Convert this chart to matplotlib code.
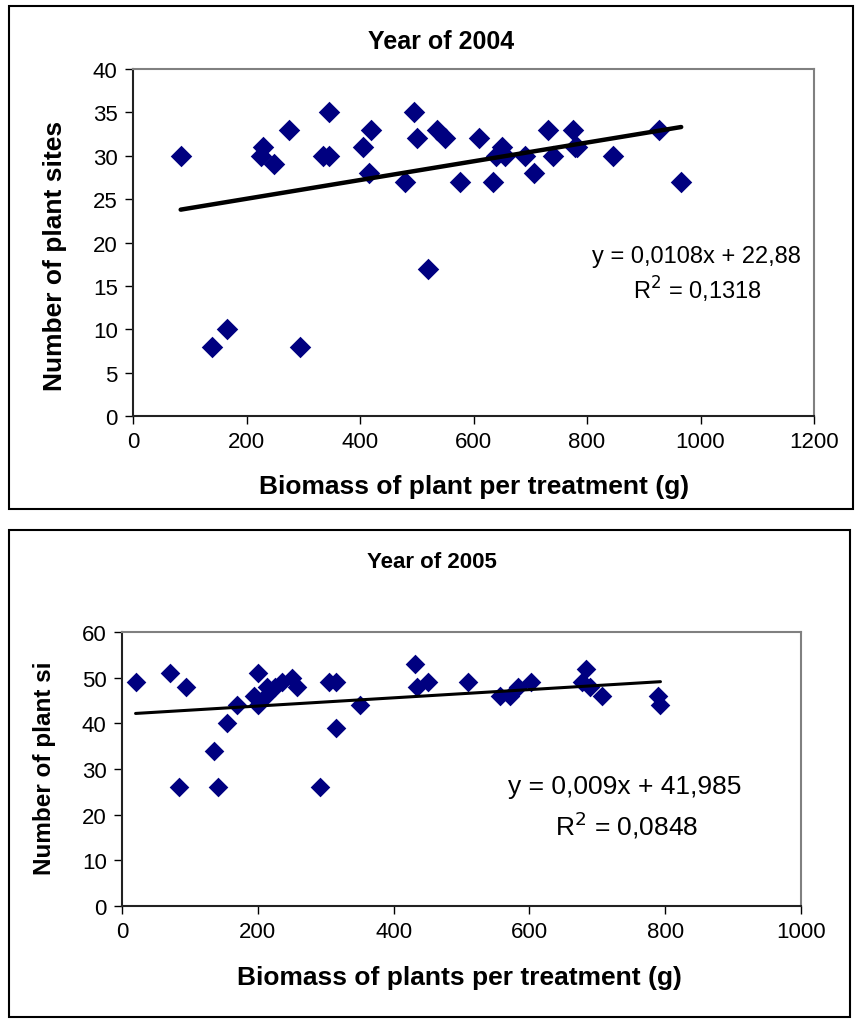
import numpy as np
import matplotlib
matplotlib.use("Agg")
import matplotlib.pyplot as plt
from matplotlib.patches import Rectangle

plt.rcParams['font.family'] = ['Liberation Sans', 'DejaVu Sans']

# 2004 data
x_2004 = [84, 140, 165, 225, 229, 249, 275, 295, 334, 345, 346, 405, 415, 420,
          480, 495, 500, 520, 535, 550, 576, 610, 634, 640, 650, 655, 690, 706,
          731, 740, 775, 778, 782, 846, 926, 966]
y_2004 = [30, 8, 10, 30, 31, 29, 33, 8, 30, 35, 30, 31, 28, 33,
          27, 35, 32, 17, 33, 32, 27, 32, 27, 30, 31, 30, 30, 28,
          33, 30, 33, 31, 31, 30, 33, 27]
slope_2004, icpt_2004 = 0.0108, 22.88
eq_2004 = "y = 0,0108x + 22,88"
r2_2004 = "R$^2$ = 0,1318"

# 2005 data
x_2005 = [20, 70, 84, 94, 135, 141, 155, 170, 194, 200, 200, 212, 214, 226,
          235, 250, 257, 291, 305, 315, 315, 350, 432, 435, 451, 510, 556, 571,
          583, 603, 677, 683, 689, 707, 790, 792]
y_2005 = [49, 51, 26, 48, 34, 26, 40, 44, 46, 51, 44, 46, 48, 48,
          49, 50, 48, 26, 49, 49, 39, 44, 53, 48, 49, 49, 46, 46,
          48, 49, 49, 52, 48, 46, 46, 44]
slope_2005, icpt_2005 = 0.009, 41.985
eq_2005 = "y = 0,009x + 41,985"
r2_2005 = "R$^2$ = 0,0848"

W, H = 855, 1020
fig = plt.figure(figsize=(W / 100, H / 100), dpi=100)


def fx(px):
    return px / W


def fy(py):
    return 1 - py / H


def frame(x0, y0, x1, y1):
    fig.patches.append(Rectangle((fx(x0), fy(y1)), fx(x1) - fx(x0), fy(y0) - fy(y1),
                                 transform=fig.transFigure, fill=False,
                                 edgecolor='black', linewidth=1.5))


def style_axes(ax, fs):
    for s in ['top', 'right']:
        ax.spines[s].set_color('#808080')
        ax.spines[s].set_linewidth(1.5)
    for s in ['left', 'bottom']:
        ax.spines[s].set_color('#222222')
        ax.spines[s].set_linewidth(1.5)
    ax.tick_params(direction='out', length=6, width=1, labelsize=fs, pad=5)


# --- 2004 panel ---
frame(9, 7, 853, 510)
ax1 = fig.add_axes([fx(133), fy(417), fx(814) - fx(133), fy(70) - fy(417)])
ax1.scatter(x_2004, y_2004, marker='D', s=120, color='#000080', zorder=3, linewidths=0)
xs = np.array([min(x_2004), max(x_2004)])
ax1.plot(xs, slope_2004 * xs + icpt_2004, color='black', lw=3.2, solid_capstyle='round', zorder=4)
ax1.set_xlim(0, 1200)
ax1.set_ylim(0, 40)
ax1.set_xticks(range(0, 1201, 200))
ax1.set_yticks(range(0, 41, 5))
style_axes(ax1, 16)
fig.text(fx(441), fy(42), "Year of 2004", ha='center', va='center', fontsize=18, fontweight='bold')
fig.text(fx(474), fy(487), "Biomass of plant per treatment (g)", ha='center', va='center',
         fontsize=19, fontweight='bold')
fig.text(fx(55), fy(256), "Number of plant sites", ha='center', va='center', rotation=90,
         fontsize=19, fontweight='bold')
fig.text(fx(696), fy(257), eq_2004, ha='center', va='center', fontsize=17)
fig.text(fx(697), fy(290), r2_2004, ha='center', va='center', fontsize=17)

# --- 2005 panel ---
frame(9, 531, 850, 1018)
ax2 = fig.add_axes([fx(122), fy(907), fx(801) - fx(122), fy(633) - fy(907)])
ax2.scatter(x_2005, y_2005, marker='D', s=100, color='#000080', zorder=3, linewidths=0)
xs = np.array([min(x_2005), 793])
ax2.plot(xs, slope_2005 * xs + icpt_2005, color='black', lw=2.2, solid_capstyle='round', zorder=4)
ax2.set_xlim(0, 1000)
ax2.set_ylim(0, 60)
ax2.set_xticks(range(0, 1001, 200))
ax2.set_yticks(range(0, 61, 10))
style_axes(ax2, 16)
fig.text(fx(432), fy(562), "Year of 2005", ha='center', va='center', fontsize=16, fontweight='bold')
fig.text(fx(459), fy(978), "Biomass of plants per treatment (g)", ha='center', va='center',
         fontsize=19, fontweight='bold')
fig.text(fx(45), fy(768), "Number of plant si", ha='center', va='center', rotation=90,
         fontsize=17.5, fontweight='bold')
fig.text(fx(625), fy(787), eq_2005, ha='center', va='center', fontsize=19)
fig.text(fx(627), fy(825), r2_2005, ha='center', va='center', fontsize=19)

fig.savefig("out.png", dpi=100)
